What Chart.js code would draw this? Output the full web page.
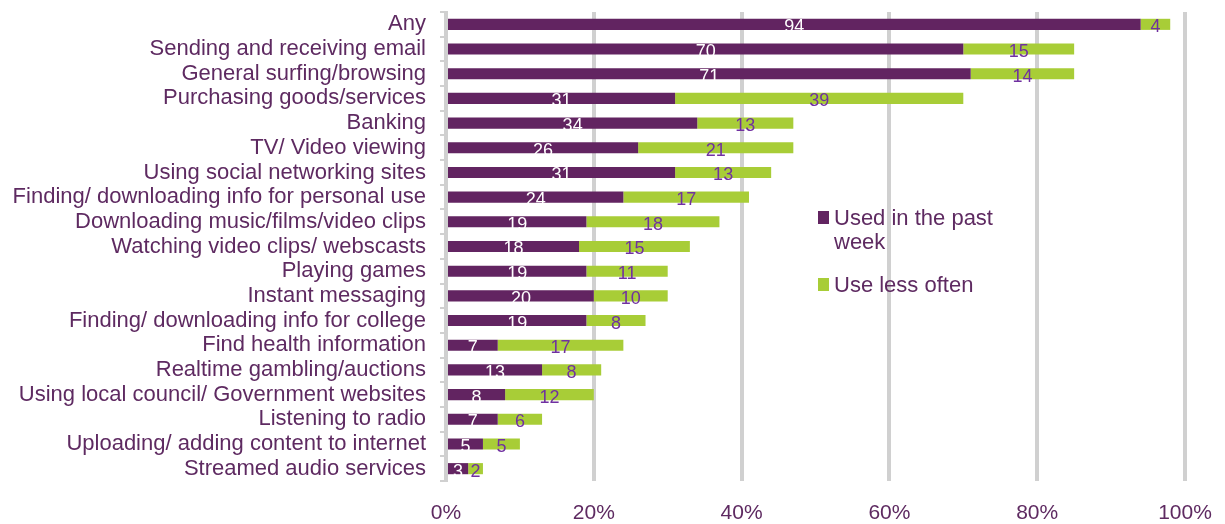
<!DOCTYPE html>
<html>
<head>
<meta charset="utf-8">
<script src="https://cdn.jsdelivr.net/npm/chart.js@4.4.1/dist/chart.umd.min.js"></script>
<style>
  html, body { margin: 0; padding: 0; background: #ffffff; }
  #wrap { width: 1225px; height: 524px; position: relative; }
</style>
</head>
<body>
<div id="wrap"><canvas id="chart"></canvas></div>
<script>
// Internet activities, share of users (%)
const categories = [
  'Any',
  'Sending and receiving email',
  'General surfing/browsing',
  'Purchasing goods/services',
  'Banking',
  'TV/ Video viewing',
  'Using social networking sites',
  'Finding/ downloading info for personal use',
  'Downloading music/films/video clips',
  'Watching video clips/ webscasts',
  'Playing games',
  'Instant messaging',
  'Finding/ downloading info for college',
  'Find health information',
  'Realtime gambling/auctions',
  'Using local council/ Government websites',
  'Listening to radio',
  'Uploading/ adding content to internet',
  'Streamed audio services'
];
const seriesNames = ['Used in the past week', 'Use less often'];
const usedPastWeek = [94, 70, 71, 31, 34, 26, 31, 24, 19, 18, 19, 20, 19, 7, 13, 8, 7, 5, 3];
const useLessOften = [4, 15, 14, 39, 13, 21, 13, 17, 18, 15, 11, 10, 8, 17, 8, 12, 6, 5, 2];
const xTickValues = [0, 20, 40, 60, 80, 100];

const FONT = "'Liberation Sans', Arial, sans-serif";
const TEXT = '#5E2A61';
const PURPLE = '#622461';
const GREEN = '#A8CD37';
const GRID = '#D0D0D0';

// value labels centred inside each bar segment
const segmentLabels = {
  id: 'segmentLabels',
  afterDatasetsDraw(chart) {
    const ctx = chart.ctx;
    const colors = ['#ffffff', '#7030A0'];
    ctx.save();
    ctx.font = '18px ' + FONT;
    ctx.textAlign = 'center';
    ctx.textBaseline = 'middle';
    chart.data.datasets.forEach((ds, di) => {
      const meta = chart.getDatasetMeta(di);
      ctx.fillStyle = colors[di];
      meta.data.forEach((el, i) => {
        const cx = (el.x + el.base) / 2;
        ctx.fillText(String(ds.data[i]), cx, el.y + 3);
      });
    });
    ctx.restore();
  }
};

// legend on the right, with wrapped labels
const sideLegend = {
  id: 'sideLegend',
  afterDraw(chart) {
    const ctx = chart.ctx;
    const x0 = 818, maxW = 175, lineH = 24;
    const starts = [225, 292];
    ctx.save();
    ctx.font = '22px ' + FONT;
    ctx.textBaseline = 'alphabetic';
    ctx.textAlign = 'left';
    chart.data.datasets.forEach((ds, di) => {
      const words = ds.label.split(' ');
      const lines = [];
      let cur = '';
      words.forEach(w => {
        const test = cur ? cur + ' ' + w : w;
        if (ctx.measureText(test).width > maxW && cur) { lines.push(cur); cur = w; }
        else cur = test;
      });
      if (cur) lines.push(cur);
      const base = starts[di];
      ctx.fillStyle = ds.backgroundColor;
      ctx.fillRect(x0, base - 14, 11, 13);
      ctx.fillStyle = TEXT;
      lines.forEach((ln, li) => ctx.fillText(ln, x0 + 16, base + li * lineH));
    });
    ctx.restore();
  }
};

new Chart(document.getElementById('chart'), {
  type: 'bar',
  data: {
    labels: categories,
    datasets: [
      { label: seriesNames[0], data: usedPastWeek, backgroundColor: PURPLE },
      { label: seriesNames[1], data: useLessOften, backgroundColor: GREEN }
    ]
  },
  options: {
    indexAxis: 'y',
    responsive: true,
    maintainAspectRatio: false,
    animation: false,
    layout: { padding: { top: 12, right: 40, left: 0, bottom: 0 } },
    datasets: { bar: { barPercentage: 0.45, categoryPercentage: 1 } },
    plugins: { legend: { display: false }, tooltip: { enabled: false } },
    scales: {
      x: {
        stacked: true,
        min: 0,
        max: 100,
        afterBuildTicks(scale) { scale.ticks = xTickValues.map(v => ({ value: v })); },
        afterFit(scale) {
          scale.height = 43;
          scale.paddingLeft = 0;
          scale.paddingRight = 0;
        },
        grid: { color: GRID, lineWidth: 4, drawTicks: false },
        border: { display: false },
        ticks: {
          padding: 20,
          color: TEXT,
          font: { family: FONT, size: 21 },
          callback: v => v + '%'
        }
      },
      y: {
        stacked: true,
        afterFit(scale) {
          scale.width = 446;
          scale.paddingTop = 0;
          scale.paddingBottom = 0;
        },
        grid: { drawOnChartArea: false, offset: true, color: GRID, lineWidth: 2, tickLength: 6 },
        border: { display: true, color: GRID, width: 3 },
        ticks: {
          padding: 14,
          color: TEXT,
          autoSkip: false,
          font: { family: FONT, size: 22 }
        }
      }
    }
  },
  plugins: [segmentLabels, sideLegend]
});
</script>
</body>
</html>
